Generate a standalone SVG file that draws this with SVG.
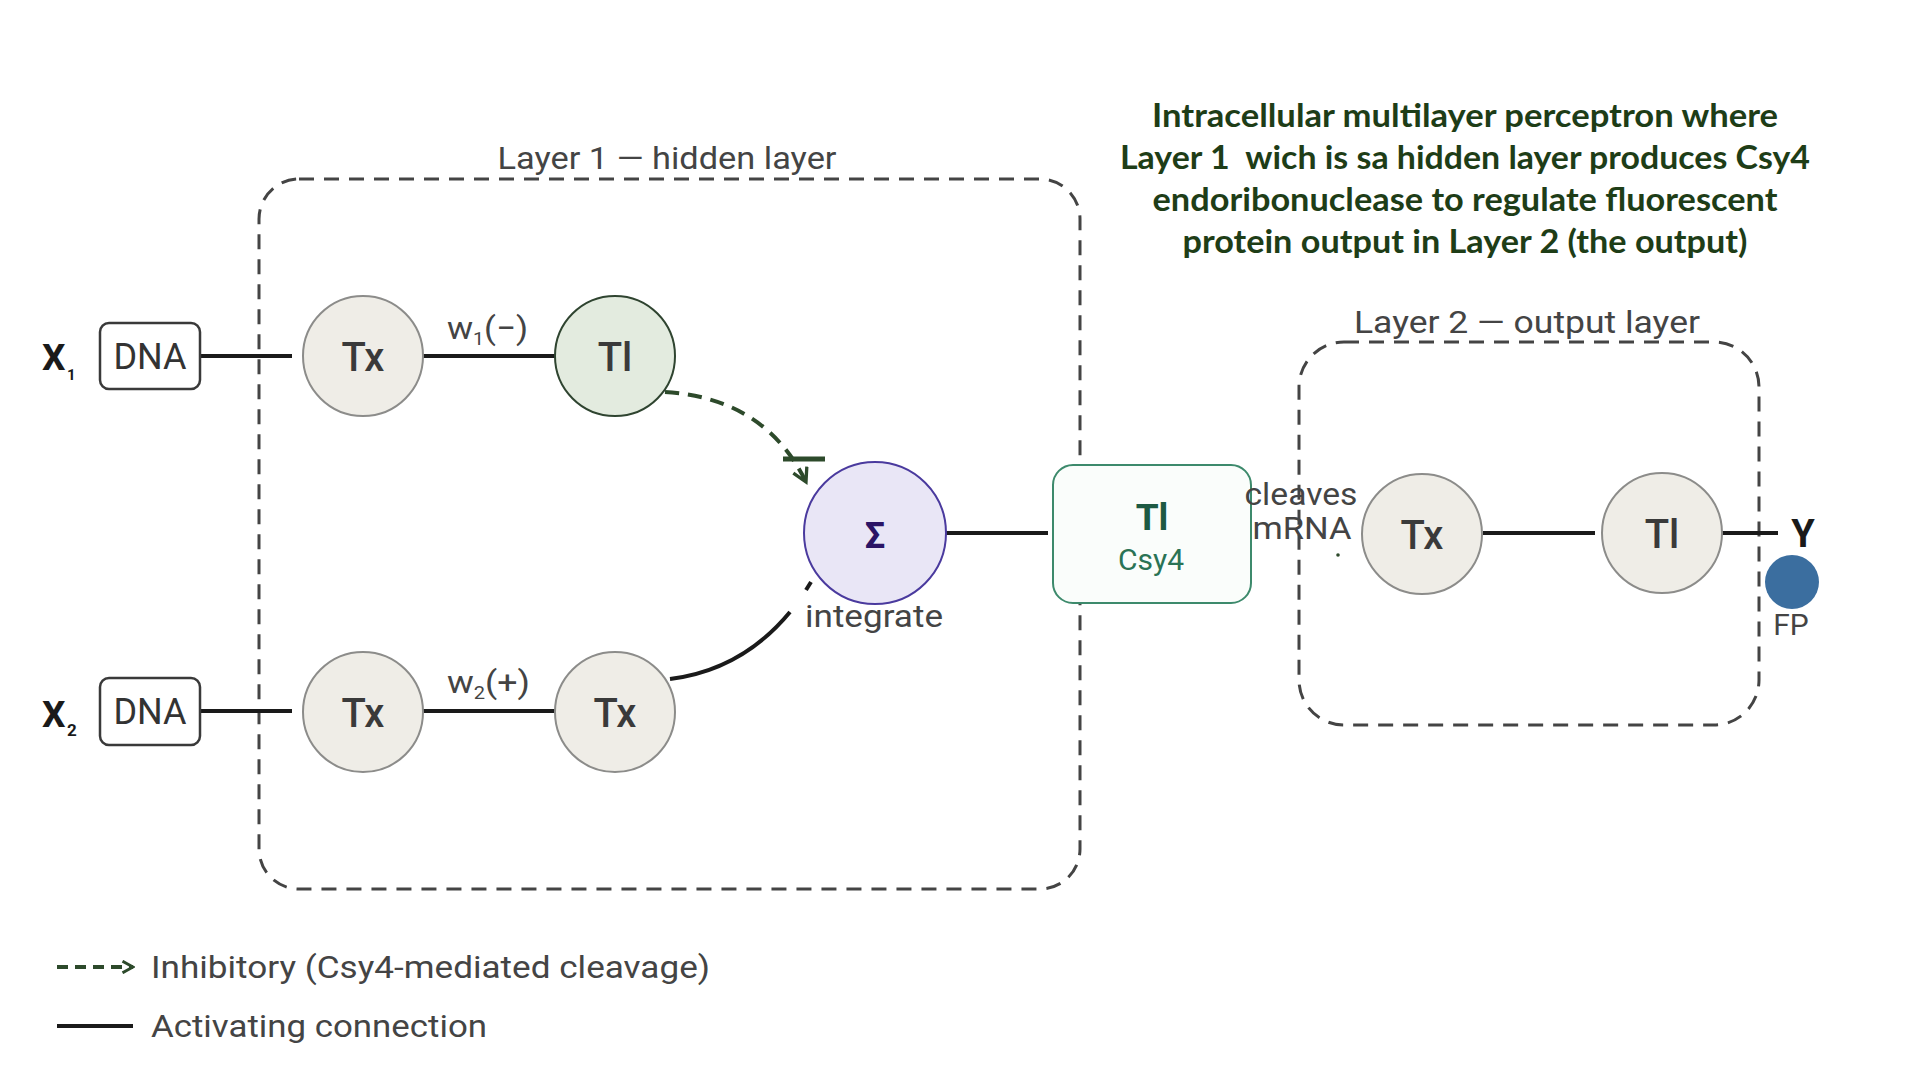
<svg xmlns="http://www.w3.org/2000/svg" width="1920" height="1080" viewBox="0 0 1920 1080">
<style>
.lbl{font-family:Roboto,"Liberation Sans",sans-serif;fill:#444}
.node-tx{fill:#efede7;stroke:#8c8c8a;stroke-width:2}
.ntxt{font-family:Roboto,"Liberation Sans",sans-serif;font-size:40px;font-weight:500;fill:#3a3a3a;text-anchor:middle}
.dna{fill:#fff;stroke:#3a3a3a;stroke-width:2.5}
.dnat{font-family:Roboto,"Liberation Sans",sans-serif;font-size:36px;fill:#333;text-anchor:middle}
.xin{font-family:Roboto,"Liberation Sans",sans-serif;font-weight:700;fill:#1a1a1a}
.frame{fill:none;stroke:#444;stroke-width:3;stroke-dasharray:15 10}
.act{fill:none;stroke:#1a1a1a;stroke-width:4}
.inh{fill:none;stroke:#2d4a2b;stroke-width:4;stroke-dasharray:14 9}
.title{font-family:Lato,"Noto Sans",sans-serif;font-weight:700;font-size:32px;fill:#1e3d17;text-anchor:middle}
</style>
<defs>
<marker id="openArrow" viewBox="0 0 12 12" refX="10" refY="6" markerWidth="18" markerHeight="18" markerUnits="userSpaceOnUse" orient="auto">
<path d="M1,1 L10,6 L1,11" fill="none" stroke="#2d4a2b" stroke-width="2.2"/>
</marker>
<marker id="legArrow" viewBox="0 0 12 12" refX="10" refY="6" markerWidth="14" markerHeight="14" markerUnits="userSpaceOnUse" orient="auto">
<path d="M1,1 L10,6 L1,11" fill="none" stroke="#2d4a2b" stroke-width="2.5"/>
</marker>
</defs>
<rect width="1920" height="1080" fill="#fff"/>

<g id="title">
<text class="title" x="1465" y="127" textLength="626" lengthAdjust="spacingAndGlyphs">Intracellular multilayer perceptron where</text>
<text class="title" x="1465" y="169" textLength="690" lengthAdjust="spacingAndGlyphs" xml:space="preserve">Layer 1  wich is sa hidden layer produces Csy4</text>
<text class="title" x="1465" y="211" textLength="625" lengthAdjust="spacingAndGlyphs">endoribonuclease to regulate fluorescent</text>
<text class="title" x="1465" y="253" textLength="565" lengthAdjust="spacingAndGlyphs">protein output in Layer 2 (the output)</text>
</g>

<g id="layer1">
<rect class="frame" x="259" y="179" width="821" height="710" rx="40"/>
<text class="lbl" x="667" y="169" font-size="31" text-anchor="middle" textLength="339" lengthAdjust="spacingAndGlyphs">Layer 1 — hidden layer</text>
</g>
<g id="layer2">
<rect class="frame" x="1299" y="342" width="460" height="383" rx="45"/>
<text class="lbl" x="1527" y="333" font-size="31" text-anchor="middle" textLength="346" lengthAdjust="spacingAndGlyphs">Layer 2 — output layer</text>
</g>

<g id="connectors">
<line class="act" x1="200" y1="356" x2="292" y2="356"/>
<line class="act" x1="423" y1="356" x2="555" y2="356"/>
<line class="act" x1="200" y1="711" x2="292" y2="711"/>
<line class="act" x1="423" y1="711" x2="555" y2="711"/>
<line class="act" x1="946" y1="533" x2="1048" y2="533"/>
<line class="act" x1="1483" y1="533" x2="1595" y2="533"/>
<line class="act" x1="1722" y1="533" x2="1778" y2="533"/>
<path class="act" d="M670,679 Q742,670 790,612"/>
<path class="act" d="M806,590 L811,582" stroke-width="3"/>
<path class="inh" d="M665,392 Q765,398 806,482" marker-end="url(#openArrow)"/>
<line x1="783" y1="459" x2="825" y2="459" stroke="#2d4a2b" stroke-width="5"/>
</g>

<g id="x1">
<text class="xin" x="42" y="370" font-size="37">X</text>
<text class="xin" x="67" y="380" font-size="15">1</text>
</g>
<g id="x2">
<text class="xin" x="42" y="727" font-size="37">X</text>
<text class="xin" x="67" y="736" font-size="17">2</text>
</g>
<g id="dna1">
<rect class="dna" x="100" y="323" width="100" height="66" rx="9"/>
<text class="dnat" x="150" y="369">DNA</text>
</g>
<g id="dna2">
<rect class="dna" x="100" y="678" width="100" height="67" rx="9"/>
<text class="dnat" x="150" y="724">DNA</text>
</g>
<g id="tx1">
<circle class="node-tx" cx="363" cy="356" r="60"/>
<text class="ntxt" x="363" y="371">Tx</text>
</g>
<g id="w1">
<text class="lbl" x="447" y="339" font-size="32" textLength="81" lengthAdjust="spacingAndGlyphs">w<tspan font-size="18" dy="6">1</tspan><tspan dy="-6">(−)</tspan></text>
</g>
<g id="tl1">
<circle cx="615" cy="356" r="60" fill="#e3ebdf" stroke="#2f4430" stroke-width="2"/>
<text class="ntxt" x="615" y="371" font-weight="700" fill="#1d3320">Tl</text>
</g>
<g id="tx2">
<circle class="node-tx" cx="363" cy="712" r="60"/>
<text class="ntxt" x="363" y="727">Tx</text>
</g>
<g id="w2">
<text class="lbl" x="447" y="693" font-size="32" textLength="83" lengthAdjust="spacingAndGlyphs">w<tspan font-size="18" dy="6">2</tspan><tspan dy="-6">(+)</tspan></text>
</g>
<g id="tx3">
<circle class="node-tx" cx="615" cy="712" r="60"/>
<text class="ntxt" x="615" y="727">Tx</text>
</g>
<g id="sigma">
<circle cx="875" cy="533" r="71" fill="#e9e6f6" stroke="#4a3a9e" stroke-width="2"/>
<text x="875" y="548" font-family="Roboto,'DejaVu Sans',sans-serif" font-size="36" font-weight="700" fill="#2b1466" text-anchor="middle">Σ</text>
<text class="lbl" x="874" y="627" font-size="31" text-anchor="middle" textLength="138" lengthAdjust="spacingAndGlyphs">integrate</text>
</g>
<g id="csy4">
<rect x="1053" y="465" width="198" height="138" rx="20" fill="#fafdfb" stroke="#3d8a6c" stroke-width="2"/>
<text x="1152" y="530" font-family="Roboto,'Liberation Sans',sans-serif" font-size="37" font-weight="700" fill="#1d5a43" text-anchor="middle">Tl</text>
<text x="1151" y="570" font-family="Roboto,'Liberation Sans',sans-serif" font-size="30" fill="#2a7355" text-anchor="middle">Csy4</text>
</g>
<g id="cleaves">
<text class="lbl" x="1301" y="505" font-size="31" text-anchor="middle" fill="#3a3a3a" textLength="113" lengthAdjust="spacingAndGlyphs">cleaves</text>
<text class="lbl" x="1302" y="539" font-size="31" text-anchor="middle" fill="#3a3a3a" textLength="99" lengthAdjust="spacingAndGlyphs">mRNA</text>
<circle cx="1338" cy="555" r="1.8" fill="#2d4a2b"/>
</g>
<g id="tx4">
<circle class="node-tx" cx="1422" cy="534" r="60"/>
<text class="ntxt" x="1422" y="549">Tx</text>
</g>
<g id="tl2">
<circle class="node-tx" cx="1662" cy="533" r="60"/>
<text class="ntxt" x="1662" y="548" font-weight="700">Tl</text>
</g>
<g id="y">
<text class="xin" x="1803" y="547" font-size="38" text-anchor="middle">Y</text>
</g>
<g id="fp">
<circle cx="1792" cy="582" r="27" fill="#3b6e9f"/>
<text class="lbl" x="1791" y="635" font-size="30" text-anchor="middle">FP</text>
</g>

<g id="legend">
<line x1="57" y1="967" x2="133" y2="967" stroke="#2d4a2b" stroke-width="4" stroke-dasharray="11 7" marker-end="url(#legArrow)"/>
<text class="lbl" x="151" y="978" font-size="32" textLength="559" lengthAdjust="spacingAndGlyphs">Inhibitory (Csy4-mediated cleavage)</text>
<line x1="57" y1="1026" x2="133" y2="1026" stroke="#1a1a1a" stroke-width="4"/>
<text class="lbl" x="151" y="1037" font-size="32" textLength="336" lengthAdjust="spacingAndGlyphs">Activating connection</text>
</g>
</svg>
